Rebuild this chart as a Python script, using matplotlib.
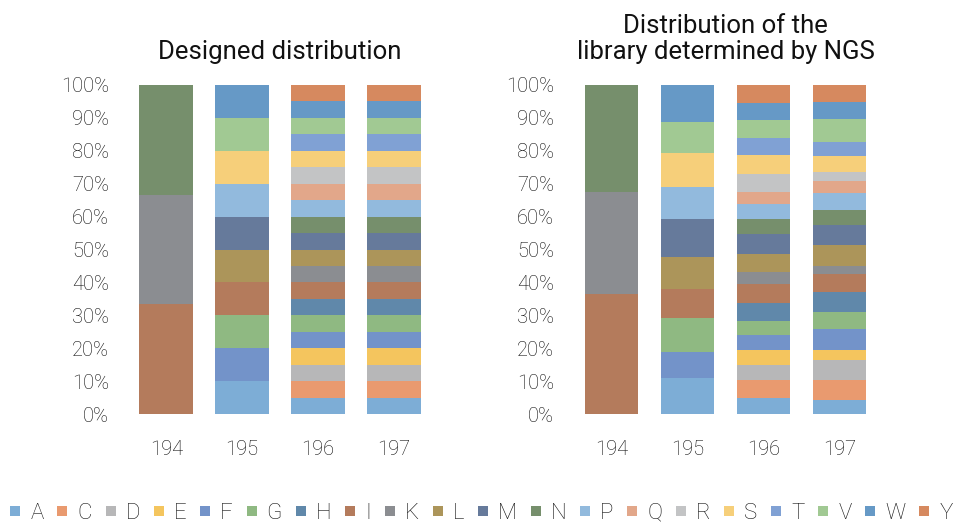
import matplotlib
matplotlib.use("Agg")
import matplotlib.pyplot as plt
from matplotlib.lines import Line2D
import numpy as np

plt.rcParams['font.family'] = ['Roboto', 'DejaVu Sans']
plt.rcParams['font.weight'] = 'light'

amino_acids = ["A", "C", "D", "E", "F", "G", "H", "I", "K", "L",
               "M", "N", "P", "Q", "R", "S", "T", "V", "W", "Y"]
colors = ["#7DADD6", "#E99A6F", "#B7B7B8", "#F4C55E", "#7393C9",
          "#8FB982", "#6088AA", "#B47B5C", "#8B8D91", "#AC955A",
          "#667A9B", "#768F6C", "#92BADD", "#E2A78A", "#C3C4C5",
          "#F6CF7A", "#80A1D4", "#A1C993", "#6699C6", "#D6895F"]
libraries = ["194", "195", "196", "197"]

# Designed composition (%) per library, in amino-acid order A..Y
designed_194 = [0, 0, 0, 0, 0, 0, 0, 33.3, 33.4, 0, 0, 33.3, 0, 0, 0, 0, 0, 0, 0, 0]
designed_195 = [10, 0, 0, 0, 10, 10, 0, 10, 0, 10, 10, 0, 10, 0, 0, 10, 0, 10, 10, 0]
designed_196 = [5] * 20
designed_197 = [5] * 20

# Composition measured by NGS (%)
ngs_194 = [0, 0, 0, 0, 0, 0, 0, 36.5, 31.0, 0, 0, 32.5, 0, 0, 0, 0, 0, 0, 0, 0]
ngs_195 = [10.9, 0, 0, 0, 7.9, 10.3, 0, 8.8, 0, 9.7, 11.6, 0, 9.7, 0, 0, 10.3, 0, 9.7, 11.1, 0]
ngs_196 = [4.9, 5.5, 4.6, 4.6, 4.3, 4.3, 5.5, 5.8, 3.6, 5.5,
           6.1, 4.5, 4.6, 3.8, 5.5, 5.5, 5.2, 5.5, 5.1, 6.0]
ngs_197 = [4.3, 6.1, 6.1, 3.0, 6.4, 5.2, 6.1, 5.5, 2.4, 6.4,
           5.8, 4.6, 5.2, 3.6, 3.0, 4.6, 4.3, 7.2, 5.0, 5.5]

designed = np.array([designed_194, designed_195, designed_196, designed_197]).T
ngs = np.array([ngs_194, ngs_195, ngs_196, ngs_197]).T

W, H = 957, 522
fig = plt.figure(figsize=(W / 100, H / 100), dpi=100)

text_color = "#0a0a0a"


def draw_panel(ax, data, title):
    x = np.arange(len(libraries))
    bottom = np.zeros(len(libraries))
    for i, aa in enumerate(amino_acids):
        ax.bar(x, data[i], bottom=bottom, width=0.71, color=colors[i],
               linewidth=0)
        bottom += data[i]
    ax.set_xlim(-0.5, len(libraries) - 0.5)
    ax.set_ylim(0, 100)
    ax.set_yticks(np.arange(0, 101, 10))
    ax.set_yticklabels([f"{v}%" for v in range(0, 101, 10)])
    ax.set_xticks(x)
    ax.set_xticklabels(libraries)
    for s in ax.spines.values():
        s.set_visible(False)
    ax.tick_params(length=0, labelsize=14.5, colors=text_color)
    ax.tick_params(axis="y", pad=14)
    ax.tick_params(axis="x", pad=19)
    ax.set_title(title, fontsize=18.5, color="#111111", pad=19, linespacing=1.1)


ax1 = fig.add_axes([128.5 / W, 108 / H, 303 / W, 329 / H])
ax2 = fig.add_axes([573.5 / W, 108 / H, 304 / W, 329 / H])
draw_panel(ax1, designed, "Designed distribution")
draw_panel(ax2, ngs, "Distribution of the\nlibrary determined by NGS")

handles = [Line2D([], [], marker="s", linestyle="", markersize=7.2,
                  markerfacecolor=c, markeredgewidth=0) for c in colors]
leg = fig.legend(handles, amino_acids, loc="lower center", ncol=20,
                 bbox_to_anchor=(0.503, -0.003), frameon=False, fontsize=16,
                 handlelength=0.45, handletextpad=0.45, columnspacing=0.62,
                 borderaxespad=0, borderpad=0)
for t in leg.get_texts():
    t.set_color("#111111")

fig.savefig("out.png", dpi=100)
